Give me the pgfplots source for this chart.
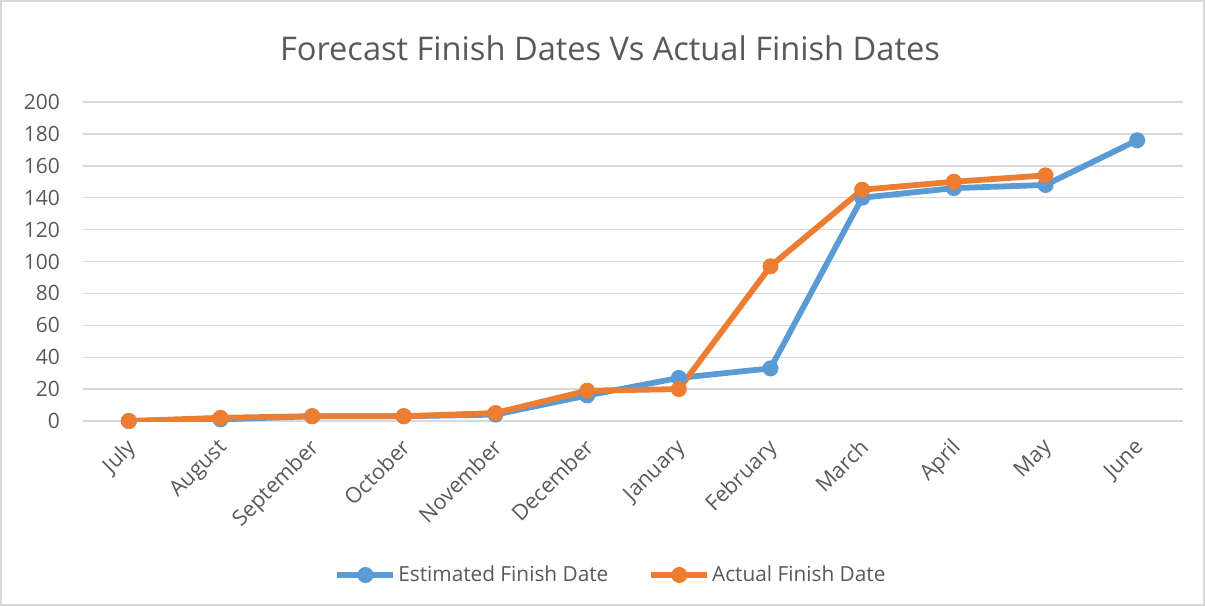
\documentclass[border=0pt]{standalone}
\usepackage{pgfplots}
\pgfplotsset{compat=1.18}
\usepackage{fontspec}
\setmainfont{Open Sans}
\definecolor{cblue}{HTML}{5B9BD5}
\definecolor{corange}{HTML}{ED7D31}
\definecolor{ctext}{HTML}{595959}
\definecolor{cgrid}{HTML}{D9D9D9}
\begin{document}
\begin{tikzpicture}
\begin{axis}[
  name=a,
  scale only axis,
  width=550pt, height=159.5pt,
  xmin=-0.5, xmax=11.5,
  ymin=0, ymax=200,
  ytick={0,20,...,200},
  xtick={0,...,11},
  xticklabels={July,August,September,October,November,December,January,February,March,April,May,June},
  xticklabel style={xshift=-2pt, yshift=-6.5pt, rotate=45, anchor=north east, inner sep=1pt, font=\fontsize{10.8}{12}\selectfont},
  yticklabel style={anchor=east, xshift=-8pt, font=\fontsize{10.5}{12}\selectfont},
  tick style={draw=none},
  axis line style={draw=none},
  ymajorgrids,
  major grid style={cgrid, line width=0.7pt},
  tick label style={text=ctext},
  /pgf/number format/assume math mode=true,
  legend style={at={(0.5,0)}, anchor=center, xshift=-11pt, yshift=-77pt, draw=none, font=\fontsize{10.4}{12}\selectfont, text=ctext, legend columns=2, /tikz/every even column/.append style={column sep=19pt}, inner sep=0pt, nodes={inner sep=1pt}},
  legend image code/.code={
    \draw[#1, mark=none] (0cm,0cm) -- (28pt,0cm);
    \draw[#1, only marks] plot coordinates {(14pt,0cm)};
  },
]
\addplot[cblue, line width=2.9pt, mark=*, mark size=3.7pt, mark options={line width=0.6pt}] coordinates {
(0,0) (1,1) (2,3) (3,3) (4,4) (5,16) (6,27) (7,33) (8,140) (9,146) (10,148) (11,176)};
\addlegendentry{Estimated Finish Date}
\addplot[corange, line width=2.9pt, mark=*, mark size=3.7pt, mark options={line width=0.6pt}] coordinates {
(0,0) (1,2) (2,3) (3,3) (4,5) (5,19) (6,20) (7,97) (8,145) (9,150) (10,154)};
\addlegendentry{Actual Finish Date}
\end{axis}
\node[text=ctext, font=\fontsize{16.3}{19}\selectfont] at ([shift={(-11.5pt,27pt)}]a.north) {Forecast Finish Dates Vs Actual Finish Dates};
\draw[cgrid, line width=0.6pt] ([shift={(-41pt,-92pt)}]a.south west) rectangle ([shift={(10.5pt,50.5pt)}]a.north east);
\path ([shift={(-41.5pt,-92.5pt)}]a.south west) rectangle ([shift={(11pt,51pt)}]a.north east);
\end{tikzpicture}
\end{document}
